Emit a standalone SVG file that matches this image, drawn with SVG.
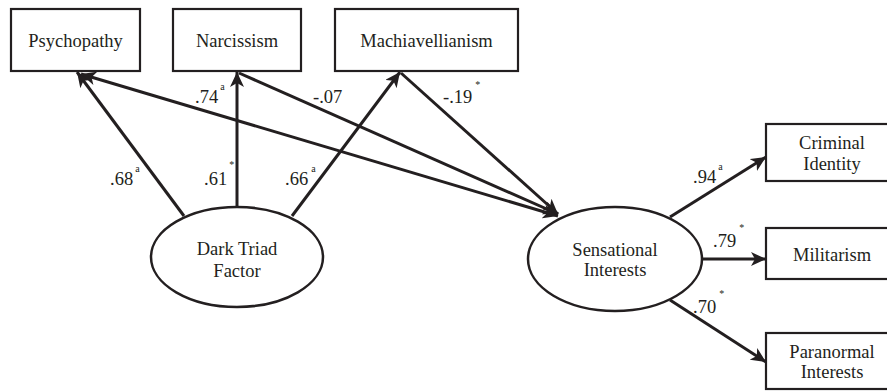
<svg xmlns="http://www.w3.org/2000/svg" width="887" height="391" viewBox="0 0 887 391">
<style>
.box{fill:#fff;stroke:#231f20;stroke-width:2.2}
.ell{fill:#fff;stroke:#231f20;stroke-width:2.5}
text{font-family:'Liberation Serif','Times New Roman',Times,'DejaVu Serif',serif;font-size:18.5px;fill:#231f20}
.t{text-anchor:middle}
.s{font-size:10px}
.c{stroke:#231f20;stroke-width:3;fill:none}
</style>
<defs>
<marker id="ah" markerUnits="userSpaceOnUse" markerWidth="16" markerHeight="14" refX="15" refY="7" orient="auto-start-reverse">
<path d="M0,0 L15,7 L0,14 L4,7 z" fill="#231f20"/>
</marker>
</defs>
<g id="connectors">
<line class="c" x1="184" y1="216" x2="77" y2="72" marker-end="url(#ah)"/>
<line class="c" x1="237" y1="207" x2="237" y2="72" marker-end="url(#ah)"/>
<line class="c" x1="292" y1="216" x2="400" y2="72" marker-end="url(#ah)"/>
<line class="c" x1="81" y1="74" x2="558" y2="216" marker-start="url(#ah)" marker-end="url(#ah)"/>
<line class="c" x1="239" y1="73" x2="558" y2="214" marker-end="url(#ah)"/>
<line class="c" x1="401" y1="73" x2="558" y2="214" marker-end="url(#ah)"/>
<line class="c" x1="670" y1="217" x2="766" y2="157" marker-end="url(#ah)"/>
<line class="c" x1="702" y1="259" x2="766" y2="259" marker-end="url(#ah)"/>
<line class="c" x1="670" y1="300" x2="766" y2="362" marker-end="url(#ah)"/>
</g>
<g id="psychopathy"><rect class="box" x="11" y="9" width="129" height="62"/><text class="t" x="75.5" y="47" font-family="Liberation Serif, serif">Psychopathy</text></g>
<g id="narcissism"><rect class="box" x="173" y="9" width="128" height="62"/><text class="t" x="237" y="47">Narcissism</text></g>
<g id="machiavellianism"><rect class="box" x="335" y="9" width="183" height="62"/><text class="t" x="426.5" y="47">Machiavellianism</text></g>
<g id="criminal"><rect class="box" x="766" y="124" width="130" height="57"/><text class="t" x="832" y="149">Criminal</text><text class="t" x="832" y="170">Identity</text></g>
<g id="militarism"><rect class="box" x="766" y="228" width="130" height="51"/><text class="t" x="832" y="261">Militarism</text></g>
<g id="paranormal"><rect class="box" x="766" y="333" width="130" height="56"/><text class="t" x="832" y="358">Paranormal</text><text class="t" x="832" y="378">Interests</text></g>
<g id="darktriad"><ellipse class="ell" cx="237" cy="257" rx="86" ry="50"/><text class="t" x="237" y="255">Dark Triad</text><text class="t" x="237" y="277">Factor</text></g>
<g id="sensational"><ellipse class="ell" cx="615" cy="259" rx="87" ry="52"/><text class="t" x="615" y="256">Sensational</text><text class="t" x="615" y="276">Interests</text></g>
<g id="labels">
<text x="195" y="103">.74<tspan class="s" dx="2" dy="-13">a</tspan></text>
<text x="313" y="103">-.07</text>
<text x="443" y="103">-.19<tspan class="s" dx="3" dy="-15">*</tspan></text>
<text x="110" y="185">.68<tspan class="s" dx="2" dy="-13">a</tspan></text>
<text x="204" y="185">.61<tspan class="s" dx="2" dy="-17">*</tspan></text>
<text x="285" y="185">.66<tspan class="s" dx="3" dy="-13">a</tspan></text>
<text x="693" y="183">.94<tspan class="s" dx="2" dy="-13">a</tspan></text>
<text x="713" y="247">.79<tspan class="s" dx="3" dy="-16">*</tspan></text>
<text x="693" y="313">.70<tspan class="s" dx="3" dy="-16">*</tspan></text>
</g>
</svg>
